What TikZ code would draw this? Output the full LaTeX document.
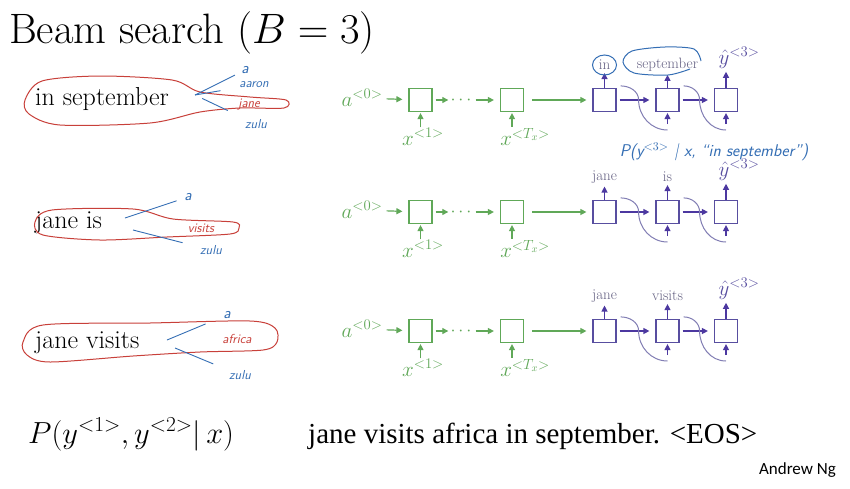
\RequirePackage{fix-cm}
\documentclass[tikz,border=0pt]{standalone}
\usepackage{fontspec}
\usetikzlibrary{arrows.meta}
\newfontfamily\slidefont{Liberation Serif}
\newfontfamily\signfont{Carlito}
\definecolor{encgreen}{RGB}{96,168,88}
\definecolor{decpurple}{RGB}{88,78,160}
\definecolor{arrpurple}{RGB}{76,56,160}
\definecolor{fbpurple}{RGB}{130,126,180}
\definecolor{lblgrey}{RGB}{100,96,130}
\definecolor{penred}{RGB}{200,64,58}
\definecolor{penblue}{RGB}{52,110,180}

\begin{document}
\begin{tikzpicture}[x=1pt,y=-1pt,>={Triangle[length=6pt,width=6pt]},
  enc/.style={draw=encgreen,line width=1.2pt,minimum size=23pt,inner sep=0pt},
  dec/.style={enc,draw=decpurple},
  garr/.style={->,encgreen,line width=1.2pt,shorten <=3pt,shorten >=6pt},
  parr/.style={->,arrpurple,line width=1.2pt,shorten <=3pt,shorten >=6pt},
  uarr/.style={->,line width=1.2pt,shorten >=1pt},
  fb/.style={fbpurple,line width=1pt},
  glab/.style={text=encgreen,font=\fontsize{21}{24}\selectfont,inner sep=1pt},
  olab/.style={text=lblgrey,font=\fontsize{15}{17}\selectfont,inner sep=1pt},
  hat/.style={text=decpurple,font=\fontsize{21}{24}\selectfont,inner sep=1pt},
  phrase/.style={anchor=base west,inner sep=0pt,font=\fontsize{26}{30}\selectfont},
  hand/.style={text=penblue,inner sep=1pt,font=\sffamily\itshape\fontsize{13}{14}\selectfont},
  pick/.style={hand,text=penred},
  hline/.style={penblue,line width=0.9pt},
  blob/.style={penred,line width=1pt}]

\fill[white] (0,0) rectangle (850,488);
\useasboundingbox (0,0) rectangle (850,488);

\node[anchor=base west,inner sep=0pt,font=\fontsize{42.5}{46}\selectfont] (title) at (9,43) {Beam search ($B=3$)};

% encoder / decoder, one row per beam
\foreach \r/\y/\la/\lb in {1/100/in/september,2/212/jane/is,3/331/jane/visits}{
  \node[glab] (a-\r) at (362,\y-2) {$a^{<0>}$};
  \node[enc] (e1-\r) at (420.5,\y) {};
  \node[inner sep=1pt,text=encgreen,font=\fontsize{18}{20}\selectfont] (dots-\r) at (461,\y) {$\cdots$};
  \node[enc] (e2-\r) at (512,\y) {};
  \node[dec] (d1-\r) at (604.5,\y) {};
  \node[dec] (d2-\r) at (667.5,\y) {};
  \node[dec] (d3-\r) at (726,\y) {};
  \node[glab] (x1-\r) at (423,\y+37) {$x^{<1>}$};
  \node[glab] (xT-\r) at (525,\y+37) {$x^{<T_x>}$};
  \node[olab] (o1-\r) at (604.5,\y-35) {\la};
  \node[olab] (o2-\r) at (667.5,\y-35) {\lb};
  \node[hat] (o3-\r) at (739,\y-42) {$\hat{y}^{<3>}$};
  \coordinate (f2-\r) at (667.5,\y+30);
  \coordinate (f3-\r) at (726,\y+30);

  \draw[garr] (a-\r) -- (e1-\r);
  \draw[garr,shorten >=1pt] (e1-\r) -- (dots-\r);
  \draw[garr] (dots-\r) -- (e2-\r);
  \draw[garr,shorten <=8pt] (e2-\r) -- (d1-\r);
  \draw[parr] (d1-\r) -- (d2-\r);
  \draw[parr] (d2-\r) -- (d3-\r);
  \draw[uarr,encgreen] (e1-\r |- x1-\r.north) -- (e1-\r.south);
  \draw[uarr,encgreen] (e2-\r |- xT-\r.north) -- (e2-\r.south);
  \draw[uarr,arrpurple,shorten >=2pt] (d1-\r.north) -- (d1-\r |- o1-\r.south);
  \draw[uarr,arrpurple,shorten >=2pt] (d2-\r.north) -- (d2-\r |- o2-\r.south);
  \draw[uarr,arrpurple,shorten >=2pt] (d3-\r.north) -- (d3-\r |- o3-\r.south);
  \draw[fb] ([shift={(4pt,2pt)}]d1-\r.north east) to[out=0,in=90] ([xshift=22pt]d1-\r.east) to[out=-90,in=180] (f2-\r);
  \draw[fb] ([shift={(4pt,2pt)}]d2-\r.north east) to[out=0,in=90] ([xshift=20pt]d2-\r.east) to[out=-90,in=180] (f3-\r);
  \draw[uarr,arrpurple] ([yshift=6pt]f2-\r) -- (d2-\r.south);
  \draw[uarr,arrpurple] ([yshift=6pt]f3-\r) -- (d3-\r.south);
}

% the kept beams
\node[phrase] (p1) at (35,105) {in september};
\node[phrase] (p2) at (35,228) {jane is};
\node[phrase] (p3) at (35,348) {jane visits};

% hand notes, row 1
\draw[blob] plot[smooth cycle] coordinates {(25,100) (42,81) (100,76) (172,80) (200,92) (250,97) (286,100) (284,108) (240,108) (200,112) (150,123) (60,125) (29,114)};
\node[hand,font=\sffamily\itshape\fontsize{16}{17}\selectfont] (w1a) at (245,70) {a};
\node[hand] (w1b) at (254,85) {aaron};
\node[pick] (w1c) at (249,105) {jane};
\node[hand] (w1d) at (256,124) {zulu};
\coordinate (h1) at (195,95);
\draw[hline,shorten >=6pt] (h1) -- (w1a);
\draw[hline,shorten >=18pt] (h1) -- (w1b);
\draw[hline,shorten <=8pt,shorten >=18pt] (h1) -- (w1d);
\draw[penblue,line width=1pt] (o1-1) ellipse (12pt and 10pt);
\draw[penblue,line width=1pt] plot[smooth] coordinates {(701,61) (694,49) (665,47) (632,51) (623,62) (634,73) (668,75) (690,69)};
\node[hand,font=\sffamily\itshape\fontsize{17}{19}\selectfont] (note) at (714,152) {P(y$^{<3>}$ | x, ``in september'')};

% hand notes, row 2
\draw[blob] plot[smooth cycle] coordinates {(35,222) (52,210) (133,209) (173,219) (233,222) (239,228) (230,234) (167,237) (100,240) (43,235)};
\node[hand,font=\sffamily\itshape\fontsize{16}{17}\selectfont] (w2a) at (188,197) {a};
\node[pick] (w2b) at (201,228) {visits};
\node[hand] (w2c) at (211,250) {zulu};
\coordinate (h2) at (125,218);
\coordinate (h2b) at (133,230);
\draw[hline,shorten >=7pt] (h2) -- (w2a);
\draw[hline,shorten >=17pt] (h2b) -- (w2c);

% hand notes, row 3
\draw[blob] plot[smooth cycle] coordinates {(23,342) (43,325) (150,323) (250,321) (275,328) (277,342) (263,350) (200,352) (133,356) (50,362) (27,355)};
\node[hand,font=\sffamily\itshape\fontsize{16}{17}\selectfont] (w3a) at (227,315) {a};
\node[pick] (w3b) at (237,339) {africa};
\node[hand] (w3c) at (240,375) {zulu};
\coordinate (h3) at (167,340);
\coordinate (h3b) at (175,348);
\draw[hline,shorten >=18pt] (h3) -- (w3a);
\draw[hline,shorten >=16pt] (h3b) -- (w3c);

% bottom line
\node[anchor=base west,inner sep=0pt,font=\fontsize{30.5}{32}\selectfont] (prob) at (28,443) {$P(y^{<1>},y^{<2>}|\,x)$};
\node[anchor=base west,inner sep=0pt,font=\slidefont\fontsize{29}{31}\selectfont] (sent) at (308,443) {jane visits africa in september. <EOS>};
\node[anchor=base east,inner sep=0pt,font=\signfont\fontsize{17}{20}\selectfont] (sign) at (836,474) {Andrew Ng};
\end{tikzpicture}
\end{document}
